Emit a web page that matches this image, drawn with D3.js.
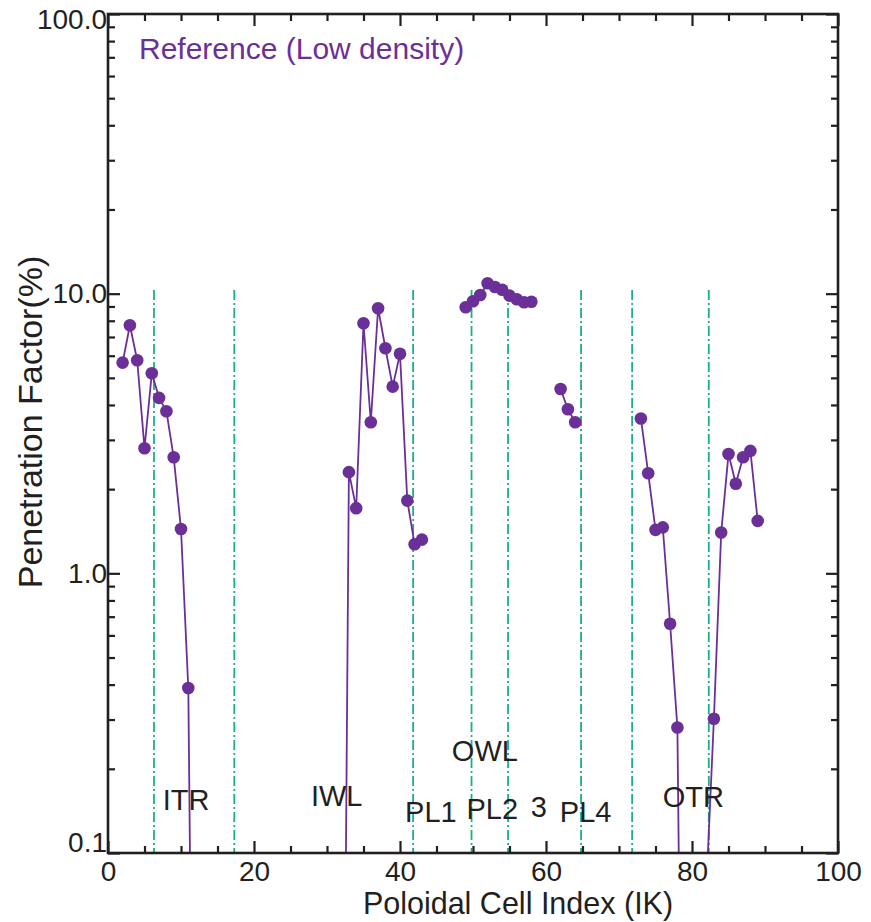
<!DOCTYPE html>
<html>
<head>
<meta charset="utf-8">
<script src="https://cdn.jsdelivr.net/npm/d3@7"></script>
<style>
  body { margin: 0; background: #fff; }
  svg { display: block; font-family: "Liberation Sans", Arial, sans-serif; }
</style>
</head>
<body>
<svg id="chart" width="871" height="922"></svg>
<script>
// poloidal cell index and penetration factor (%), null = gap in the curve
// values below 0.1 fall off the bottom of the plot
let ik = [2, 3, 4, 5, 6, 7, 8, 9, 10, 11, 12, null,
          32, 33, 34, 35, 36, 37, 38, 39, 40, 41, 42, 43, null,
          49, 50, 51, 52, 53, 54, 55, 56, 57, 58, null,
          62, 63, 64, null,
          73, 74, 75, 76, 77, 78, 79, 82, 83, 84, 85, 86, 87, 88, 89];
let pf = [5.67, 7.71, 5.78, 2.80, 5.19, 4.24, 3.80, 2.60, 1.44, 0.389, 0.001, null,
          0.001, 2.30, 1.71, 7.84, 3.47, 8.87, 6.38, 4.65, 6.10, 1.82, 1.27, 1.32, null,
          8.94, 9.39, 9.89, 10.9, 10.57, 10.33, 9.84, 9.55, 9.32, 9.36, null,
          4.56, 3.86, 3.47, null,
          3.58, 2.28, 1.43, 1.46, 0.66, 0.281, 0.001, 0.079, 0.302, 1.40, 2.67, 2.09, 2.60, 2.74, 1.54];

// region boundaries (dash-dot lines)
let boundaries = [6.3, 17.3, 41.8, 49.8, 54.8, 64.8, 71.8, 82.3];
let boundaryTop = 10.3;

// region names
let regionNames = ["ITR", "IWL", "PL1", "OWL", "PL2", "3", "PL4", "OTR"];
let regionX = [7.5, 27.8, 40.7, 47.1, 49.1, 57.9, 61.9, 76.0];
let regionY = [0.142, 0.147, 0.129, 0.214, 0.132, 0.134, 0.129, 0.146];

let xMajor = [0, 20, 40, 60, 80, 100];
let xMinor = [5, 10, 15, 25, 30, 35, 45, 50, 55, 65, 70, 75, 85, 90, 95];
let yMajor = [0.1, 1, 10, 100];
let yMinor = [0.2, 0.3, 0.4, 0.5, 0.6, 0.7, 0.8, 0.9, 2, 3, 4, 5, 6, 7, 8, 9, 20, 30, 40, 50, 60, 70, 80, 90];

let purple = "#6b2f98";
let green = "#17b08c";
let ink = "#231f20";

let svg = d3.select("#chart");
let margin = {left: 108, right: 33, top: 14, bottom: 69};
let W = 871, H = 922;

let x = d3.scaleLinear().domain([0, 100]).range([margin.left, W - margin.right]);
let y = d3.scaleLog().domain([0.1, 100]).range([H - margin.bottom, margin.top]);

svg.append("defs").append("clipPath").attr("id", "plotclip")
  .append("rect")
  .attr("x", x(0)).attr("y", y(100))
  .attr("width", x(100) - x(0)).attr("height", y(0.1) - y(100));

let plot = svg.append("g").attr("clip-path", "url(#plotclip)");

// dash-dot boundaries
plot.selectAll("line.bnd")
  .data(boundaries)
  .enter().append("line")
  .attr("class", "bnd")
  .attr("x1", d => x(d)).attr("x2", d => x(d))
  .attr("y1", y(boundaryTop)).attr("y2", y(0.1))
  .attr("stroke", green)
  .attr("stroke-width", 1.8)
  .attr("stroke-dasharray", "10,3,2,3");

// curve
let pts = ik.map((d, i) => ({ik: d, pf: pf[i]}));
let line = d3.line()
  .defined(d => d.ik != null && d.pf != null)
  .x(d => x(d.ik))
  .y(d => y(d.pf));

plot.append("path")
  .datum(pts)
  .attr("d", line)
  .attr("fill", "none")
  .attr("stroke", purple)
  .attr("stroke-width", 1.8);

plot.selectAll("circle")
  .data(pts.filter(d => d.ik != null && d.pf >= 0.1))
  .enter().append("circle")
  .attr("cx", d => x(d.ik))
  .attr("cy", d => y(d.pf))
  .attr("r", 6.3)
  .attr("fill", purple);

// axes, ticks pointing inward
function styleAxis(g, size) {
  g.select(".domain").remove();
  g.selectAll(".tick line").attr("stroke", ink).attr("stroke-width", 2.2);
  g.attr("font-size", size).attr("font-family", null);
  g.selectAll("text").attr("fill", ink);
}

svg.append("g")
  .attr("transform", "translate(0," + y(0.1) + ")")
  .call(d3.axisBottom(x).tickValues(xMajor).tickSize(-12).tickPadding(10).tickFormat(d3.format("d")))
  .call(g => styleAxis(g, 28))
  .call(g => g.selectAll("text").attr("dy", "0.71em").attr("y", 8));
svg.append("g")
  .attr("transform", "translate(0," + y(0.1) + ")")
  .call(d3.axisBottom(x).tickValues(xMinor).tickSize(-7).tickFormat(""))
  .call(g => styleAxis(g, 28));
svg.append("g")
  .attr("transform", "translate(0," + y(100) + ")")
  .call(d3.axisTop(x).tickValues(xMajor).tickSize(-12).tickFormat(""))
  .call(g => styleAxis(g, 28));
svg.append("g")
  .attr("transform", "translate(0," + y(100) + ")")
  .call(d3.axisTop(x).tickValues(xMinor).tickSize(-7).tickFormat(""))
  .call(g => styleAxis(g, 28));

let yTop = y(100), yBot = y(0.1);
svg.append("g")
  .attr("transform", "translate(" + x(0) + ",0)")
  .call(d3.axisLeft(y).tickValues(yMajor).tickSize(-12).tickPadding(1).tickFormat(d3.format(".1f")))
  .call(g => styleAxis(g, 28))
  .call(g => g.selectAll(".tick text")
    .attr("y", d => Math.min(Math.max(y(d), yTop + 6), yBot - 10) - y(d)));
svg.append("g")
  .attr("transform", "translate(" + x(0) + ",0)")
  .call(d3.axisLeft(y).tickValues(yMinor).tickSize(-7).tickFormat(""))
  .call(g => styleAxis(g, 28));
svg.append("g")
  .attr("transform", "translate(" + x(100) + ",0)")
  .call(d3.axisRight(y).tickValues(yMajor).tickSize(-12).tickFormat(""))
  .call(g => styleAxis(g, 28));
svg.append("g")
  .attr("transform", "translate(" + x(100) + ",0)")
  .call(d3.axisRight(y).tickValues(yMinor).tickSize(-7).tickFormat(""))
  .call(g => styleAxis(g, 28));

// frame
svg.append("rect")
  .attr("x", x(0)).attr("y", y(100))
  .attr("width", x(100) - x(0)).attr("height", y(0.1) - y(100))
  .attr("fill", "none")
  .attr("stroke", ink)
  .attr("stroke-width", 2.6);

// region names
svg.selectAll("text.region")
  .data(regionNames)
  .enter().append("text")
  .attr("class", "region")
  .attr("x", (d, i) => x(regionX[i]))
  .attr("y", (d, i) => y(regionY[i]))
  .attr("font-size", 29)
  .attr("fill", ink)
  .text(d => d);

// title inside the plot
svg.append("text")
  .attr("x", 139).attr("y", 59)
  .attr("font-size", 30)
  .attr("fill", purple)
  .text("Reference (Low density)");

// axis titles
svg.append("text")
  .attr("x", 518).attr("y", 914)
  .attr("text-anchor", "middle")
  .attr("font-size", 30.5)
  .attr("fill", ink)
  .text("Poloidal Cell Index (IK)");

svg.append("text")
  .attr("transform", "translate(42,422) rotate(-90)")
  .attr("text-anchor", "middle")
  .attr("font-size", 34)
  .attr("fill", ink)
  .text("Penetration Factor(%)");
</script>
</body>
</html>
